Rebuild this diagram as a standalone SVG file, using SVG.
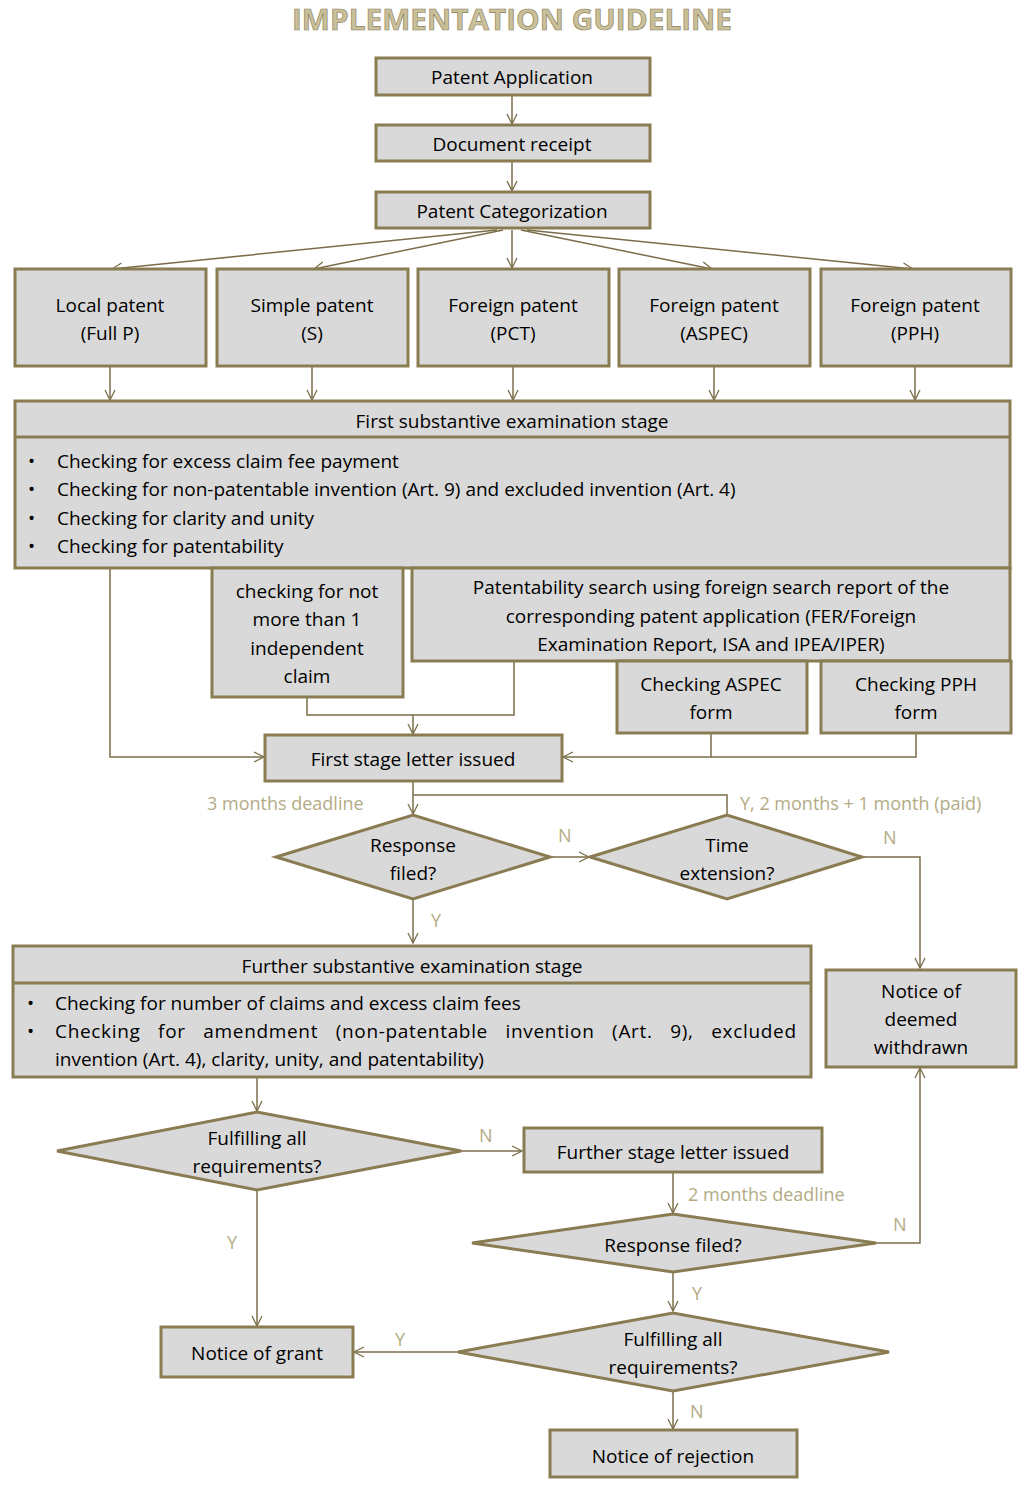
<svg xmlns="http://www.w3.org/2000/svg" width="1028" height="1488" viewBox="0 0 1028 1488">
<style>
.b{fill:#d9d9d9;stroke:#8a7c52;stroke-width:3}
.t{font-family:"Open Sans",sans-serif;font-size:19px;fill:#000;text-anchor:middle}
.l{font-family:"Open Sans",sans-serif;font-size:19px;fill:#000}
.c{fill:none;stroke:#7a6e4a;stroke-width:1.5}
.lab{font-family:"Open Sans",sans-serif;font-size:18px;fill:#b4ab86}
</style>
<defs>
<marker id="a" viewBox="0 0 12 12" refX="11" refY="6" markerWidth="12" markerHeight="12" markerUnits="userSpaceOnUse" orient="auto">
<path d="M1,1 L11,6 L1,11" fill="none" stroke="#7a6e4a" stroke-width="1.3"/>
</marker>
</defs>
<rect width="1028" height="1488" fill="#fff"/>
<text x="512" y="30" text-anchor="middle" font-family="'Open Sans',sans-serif" font-weight="bold" font-size="28" fill="#c9c09a" stroke="#8a7f5a" stroke-width="0.6" textLength="440" lengthAdjust="spacingAndGlyphs">IMPLEMENTATION GUIDELINE</text>

<g id="connectors" class="c" marker-end="url(#a)">
<path d="M512,95 V124"/>
<path d="M512,161 V191"/>
<path d="M497,230 L112,269"/>
<path d="M503,230 L314,269"/>
<path d="M512,230 V268"/>
<path d="M521,230 L712,269"/>
<path d="M527,230 L913,269"/>
<path d="M110,366 V400"/>
<path d="M312,366 V400"/>
<path d="M513,366 V400"/>
<path d="M714,366 V400"/>
<path d="M915,366 V400"/>
<path d="M110,568 V757 H264"/>
<path d="M307,697 V715 H514 V661" marker-end="none"/>
<path d="M413,715 V734"/>
<path d="M711,733 V757 H563"/>
<path d="M916,733 V757 H711" marker-end="none"/>
<path d="M413,781 V814"/>
<path d="M413,795 H727 V815" marker-end="none"/>
<path d="M550,857 H589"/>
<path d="M862,857 H920 V968"/>
<path d="M413,899 V943"/>
<path d="M257,1077 V1111"/>
<path d="M461,1151 H522"/>
<path d="M673,1172 V1213"/>
<path d="M876,1243 H920 V1068"/>
<path d="M673,1272 V1311"/>
<path d="M458,1352 H354"/>
<path d="M257,1190 V1326"/>
<path d="M673,1391 V1429"/>
</g>

<g id="n1"><rect class="b" x="376" y="58" width="274" height="37"/><text class="t" x="512" y="84">Patent Application</text></g>
<g id="n2"><rect class="b" x="376" y="125" width="274" height="36"/><text class="t" x="512" y="151">Document receipt</text></g>
<g id="n3"><rect class="b" x="376" y="192" width="274" height="36"/><text class="t" x="512" y="218">Patent Categorization</text></g>

<g id="n4"><rect class="b" x="15" y="269" width="191" height="97"/><text class="t" x="110" y="312">Local patent</text><text class="t" x="110" y="340">(Full P)</text></g>
<g id="n5"><rect class="b" x="217" y="269" width="191" height="97"/><text class="t" x="312" y="312">Simple patent</text><text class="t" x="312" y="340">(S)</text></g>
<g id="n6"><rect class="b" x="418" y="269" width="191" height="97"/><text class="t" x="513" y="312">Foreign patent</text><text class="t" x="513" y="340">(PCT)</text></g>
<g id="n7"><rect class="b" x="619" y="269" width="191" height="97"/><text class="t" x="714" y="312">Foreign patent</text><text class="t" x="714" y="340">(ASPEC)</text></g>
<g id="n8"><rect class="b" x="821" y="269" width="190" height="97"/><text class="t" x="915" y="312">Foreign patent</text><text class="t" x="915" y="340">(PPH)</text></g>

<g id="n9"><rect class="b" x="15" y="401" width="995" height="167"/><line x1="15" y1="437" x2="1010" y2="437" stroke="#8a7c52" stroke-width="3"/>
<text class="t" x="512" y="428">First substantive examination stage</text>
<text class="l" x="28" y="468">•</text><text class="l" x="57" y="468">Checking for excess claim fee payment</text>
<text class="l" x="28" y="496">•</text><text class="l" x="57" y="496">Checking for non-patentable invention (Art. 9) and excluded invention (Art. 4)</text>
<text class="l" x="28" y="525">•</text><text class="l" x="57" y="525">Checking for clarity and unity</text>
<text class="l" x="28" y="553">•</text><text class="l" x="57" y="553">Checking for patentability</text></g>

<g id="n10"><rect class="b" x="212" y="568" width="191" height="129"/><text class="t" x="307" y="598">checking for not</text><text class="t" x="307" y="626">more than 1</text><text class="t" x="307" y="655">independent</text><text class="t" x="307" y="683">claim</text></g>
<g id="n11"><rect class="b" x="412" y="568" width="598" height="93"/><text class="t" x="711" y="594">Patentability search using foreign search report of the</text><text class="t" x="711" y="623">corresponding patent application (FER/Foreign</text><text class="t" x="711" y="651">Examination Report, ISA and IPEA/IPER)</text></g>
<g id="n12"><rect class="b" x="617" y="661" width="190" height="72"/><text class="t" x="711" y="691">Checking ASPEC</text><text class="t" x="711" y="719">form</text></g>
<g id="n13"><rect class="b" x="821" y="661" width="190" height="72"/><text class="t" x="916" y="691">Checking PPH</text><text class="t" x="916" y="719">form</text></g>

<g id="n14"><rect class="b" x="265" y="735" width="297" height="46"/><text class="t" x="413" y="766">First stage letter issued</text></g>

<text class="lab" x="207" y="810">3 months deadline</text>
<text class="lab" x="740" y="810">Y, 2 months + 1 month (paid)</text>

<g id="n15"><polygon class="b" points="276,857 413,815 550,857 413,899"/><text class="t" x="413" y="852">Response</text><text class="t" x="413" y="880">filed?</text></g>
<g id="n16"><polygon class="b" points="590,857 727,815 862,857 727,899"/><text class="t" x="727" y="852">Time</text><text class="t" x="727" y="880">extension?</text></g>
<text class="lab" x="558" y="842">N</text>
<text class="lab" x="883" y="844">N</text>
<text class="lab" x="431" y="927">Y</text>

<g id="n17"><rect class="b" x="13" y="946" width="798" height="131"/><line x1="13" y1="983" x2="811" y2="983" stroke="#8a7c52" stroke-width="3"/>
<text class="t" x="412" y="973">Further substantive examination stage</text>
<text class="l" x="27" y="1010">•</text><text class="l" x="55" y="1010">Checking for number of claims and excess claim fees</text>
<text class="l" x="27" y="1038">•</text><text class="l" x="55" y="1038" textLength="741" lengthAdjust="spacing" word-spacing="12">Checking for amendment (non-patentable invention (Art. 9), excluded</text>
<text class="l" x="55" y="1066">invention (Art. 4), clarity, unity, and patentability)</text></g>

<g id="n18"><rect class="b" x="826" y="970" width="190" height="97"/><text class="t" x="921" y="998">Notice of</text><text class="t" x="921" y="1026">deemed</text><text class="t" x="921" y="1054">withdrawn</text></g>

<g id="n19"><polygon class="b" points="57,1151 257,1112 461,1151 257,1190"/><text class="t" x="257" y="1145">Fulfilling all</text><text class="t" x="257" y="1173">requirements?</text></g>
<text class="lab" x="479" y="1142">N</text>
<g id="n20"><rect class="b" x="524" y="1128" width="298" height="44"/><text class="t" x="673" y="1159">Further stage letter issued</text></g>
<text class="lab" x="688" y="1201">2 months deadline</text>
<g id="n21"><polygon class="b" points="472,1243 673,1214 876,1243 673,1272"/><text class="t" x="673" y="1252">Response filed?</text></g>
<text class="lab" x="893" y="1231">N</text>
<text class="lab" x="692" y="1300">Y</text>
<g id="n22"><polygon class="b" points="458,1352 673,1313 889,1352 673,1391"/><text class="t" x="673" y="1346">Fulfilling all</text><text class="t" x="673" y="1374">requirements?</text></g>
<text class="lab" x="395" y="1346">Y</text>
<text class="lab" x="227" y="1249">Y</text>
<text class="lab" x="690" y="1418">N</text>
<g id="n23"><rect class="b" x="161" y="1327" width="192" height="50"/><text class="t" x="257" y="1360">Notice of grant</text></g>
<g id="n24"><rect class="b" x="550" y="1430" width="247" height="47"/><text class="t" x="673" y="1463">Notice of rejection</text></g>
</svg>
